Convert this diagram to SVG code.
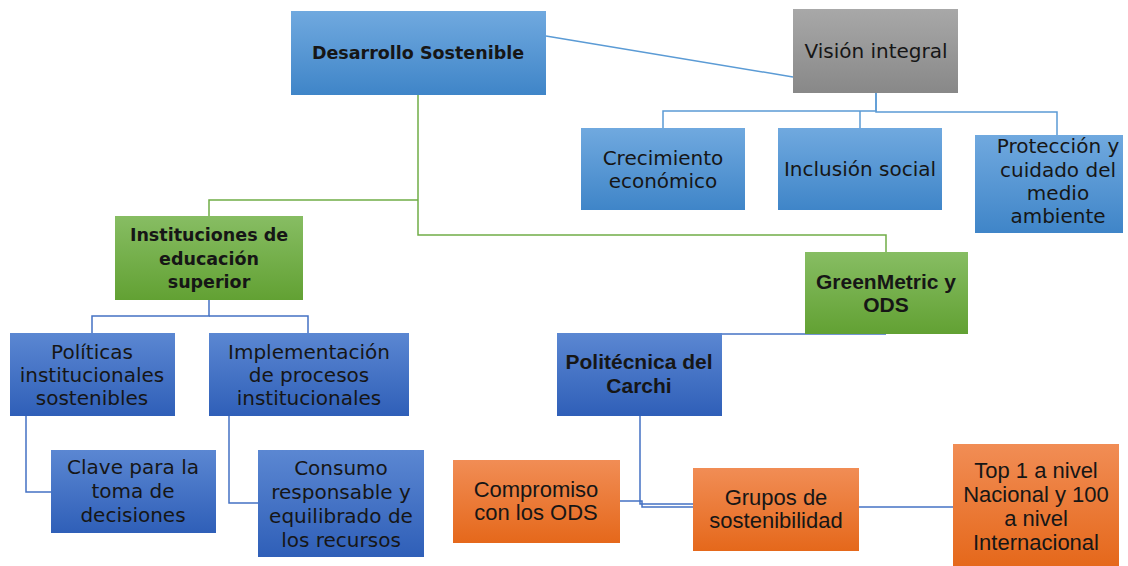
<svg xmlns="http://www.w3.org/2000/svg" width="1128" height="566" viewBox="0 0 1128 566">
<defs>
<linearGradient id="gLB" x1="0" y1="0" x2="0" y2="1"><stop offset="0" stop-color="#70a9df"/><stop offset="1" stop-color="#3f85c8"/></linearGradient>
<linearGradient id="gDB" x1="0" y1="0" x2="0" y2="1"><stop offset="0" stop-color="#5b87d2"/><stop offset="1" stop-color="#2f5fb8"/></linearGradient>
<linearGradient id="gG" x1="0" y1="0" x2="0" y2="1"><stop offset="0" stop-color="#87bd63"/><stop offset="1" stop-color="#62a133"/></linearGradient>
<linearGradient id="gO" x1="0" y1="0" x2="0" y2="1"><stop offset="0" stop-color="#f18d55"/><stop offset="1" stop-color="#e5681b"/></linearGradient>
<linearGradient id="gGr" x1="0" y1="0" x2="0" y2="1"><stop offset="0" stop-color="#a8a8a8"/><stop offset="1" stop-color="#888888"/></linearGradient>
</defs>
<style>
text{font-family:"DejaVu Sans","Liberation Sans",sans-serif;font-size:20px;fill:#161616;text-anchor:middle}
.b{font-weight:bold;font-size:17.5px}
.c{font-family:"Liberation Sans",Arial,sans-serif;font-weight:bold;font-size:21px}
.o{font-family:"Liberation Sans",Arial,sans-serif;font-size:22px}
.lb{fill:url(#gLB)}
.db{fill:url(#gDB)}
.gr{fill:url(#gG)}
.or{fill:url(#gO)}
.gy{fill:url(#gGr)}
#connectors path{fill:none;stroke-width:1.5}
.cb{stroke:#5b9bd5}
.cg{stroke:#70ad47}
.cd{stroke:#4472c4}
</style>
<rect width="1128" height="566" fill="#ffffff"/>
<g id="connectors">
<path class="cb" d="M546 36 L793 77"/>
<path class="cb" d="M663 128 V111 H876 V93"/>
<path class="cb" d="M876 93 V112 H1057 V135"/>
<path class="cb" d="M860 128 V111"/>
<path class="cg" d="M418 95 V235 H886 V252"/>
<path class="cg" d="M418 200 H209 V216"/>
<path class="cd" d="M209 299 V316 H92 V333"/>
<path class="cd" d="M209 316 H308 V333"/>
<path class="cd" d="M26 416 V492 H51"/>
<path class="cd" d="M229 416 V503 H258"/>
<path class="cd" d="M886 334 H722"/>
<path class="cd" d="M640 415 V504 H693"/>
<path class="cd" d="M620 501 H642 V507 H693"/>
<path class="cd" d="M859 507 H953"/>
</g>
<g id="n-desarrollo"><rect class="lb" x="291" y="11" width="255" height="84"/><text class="b" x="418" y="59">Desarrollo Sostenible</text></g>
<g id="n-vision"><rect class="gy" x="793" y="9" width="165" height="84"/><text x="876" y="58">Visión integral</text></g>
<g id="n-crecimiento"><rect class="lb" x="581" y="128" width="164" height="82"/><text x="663" y="165">Crecimiento</text><text x="663" y="188">económico</text></g>
<g id="n-inclusion"><rect class="lb" x="778" y="128" width="164" height="82"/><text x="860" y="176">Inclusión social</text></g>
<g id="n-proteccion"><rect class="lb" x="975" y="135" width="148" height="98"/><text x="1058" y="153">Protección y</text><text x="1058" y="177">cuidado del</text><text x="1058" y="200">medio</text><text x="1058" y="223">ambiente</text></g>
<g id="n-instituciones"><rect class="gr" x="115" y="216" width="188" height="84"/><text class="b" x="209" y="241">Instituciones de</text><text class="b" x="209" y="265">educación</text><text class="b" x="209" y="288">superior</text></g>
<g id="n-greenmetric"><rect class="gr" x="805" y="252" width="163" height="82"/><text class="c" x="886" y="289">GreenMetric y</text><text class="c" x="886" y="312">ODS</text></g>
<g id="n-politicas"><rect class="db" x="10" y="333" width="165" height="83"/><text x="92" y="359">Políticas</text><text x="92" y="382">institucionales</text><text x="92" y="405">sostenibles</text></g>
<g id="n-implementacion"><rect class="db" x="209" y="333" width="200" height="83"/><text x="309" y="359">Implementación</text><text x="309" y="382">de procesos</text><text x="309" y="405">institucionales</text></g>
<g id="n-clave"><rect class="db" x="51" y="450" width="165" height="83"/><text x="133" y="474">Clave para la</text><text x="133" y="498">toma de</text><text x="133" y="522">decisiones</text></g>
<g id="n-consumo"><rect class="db" x="258" y="450" width="166" height="107"/><text x="341" y="475">Consumo</text><text x="341" y="499">responsable y</text><text x="341" y="523">equilibrado de</text><text x="341" y="547">los recursos</text></g>
<g id="n-politecnica"><rect class="db" x="557" y="333" width="165" height="83"/><text class="c" x="639" y="369">Politécnica del</text><text class="c" x="639" y="393">Carchi</text></g>
<g id="n-compromiso"><rect class="or" x="453" y="460" width="167" height="83"/><text class="o" x="536" y="497">Compromiso</text><text class="o" x="536" y="520">con los ODS</text></g>
<g id="n-grupos"><rect class="or" x="693" y="468" width="166" height="83"/><text class="o" x="776" y="505">Grupos de</text><text class="o" x="776" y="528">sostenibilidad</text></g>
<g id="n-top"><rect class="or" x="953" y="444" width="166" height="122"/><text class="o" x="1036" y="478">Top 1 a nivel</text><text class="o" x="1036" y="502">Nacional y 100</text><text class="o" x="1036" y="526">a nivel</text><text class="o" x="1036" y="550">Internacional</text></g>
</svg>
